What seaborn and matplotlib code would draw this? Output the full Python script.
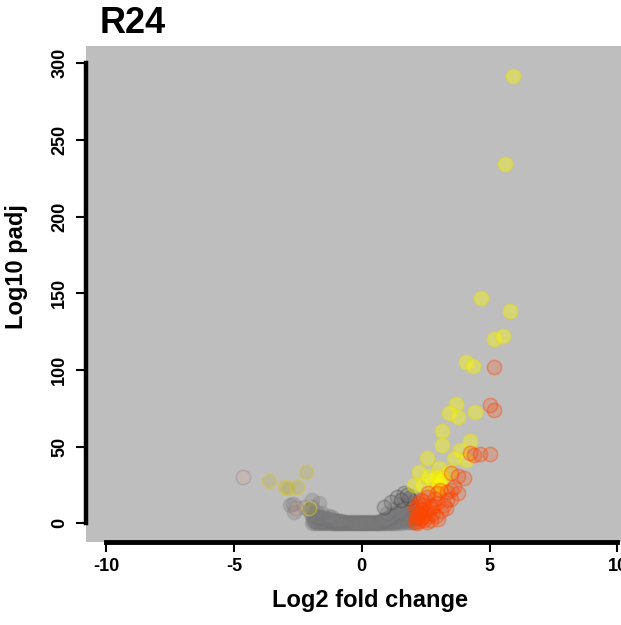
import matplotlib
matplotlib.use("Agg")
import matplotlib.pyplot as plt
import seaborn as sns
import pandas as pd

# ---- data: log2 fold change / log10 adjusted p ----
# non-significant genes (grey cloud)
grey_lfc = [-1.95, -1.85, -1.75, -1.65, -1.55, -1.45, -1.35, -1.25, -1.15, -1.05, -0.95, -0.85, -0.75, -0.65,
            -0.55, -0.45, -0.35, -0.25, -0.15, -0.05, 0.05, 0.15, 0.25, 0.35, 0.45, 0.55, 0.65, 0.75,
            0.85, 0.95, 1.05, 1.15, 1.25, 1.35, 1.45, 1.55, 1.65, 1.75, 1.85, 1.95, 2.05,
            -1.9, -1.8, -1.7, -1.6, -1.5, -1.4, -1.3, -1.2, -1.1, -1.0, -0.9, -0.8, -0.7, -0.6,
            -0.5, -0.4, -0.3, -0.2, -0.1, 0.0, 0.1, 0.2, 0.3, 0.4, 0.5, 0.6, 0.7, 0.8,
            0.9, 1.0, 1.1, 1.2, 1.3, 1.4, 1.5, 1.6, 1.7, 1.8, 1.9, 2.0,
            -1.92, -1.82, -1.72, -1.62, -1.52, -1.42, -1.32, -1.22, -1.12, -1.02, -0.92, -0.82, -0.72, -0.62,
            -0.52, -0.42, -0.32, -0.22, -0.12, -0.02, 0.08, 0.18, 0.28, 0.38, 0.48, 0.58, 0.68, 0.78,
            0.88, 0.98, 1.08, 1.18, 1.28, 1.38, 1.48, 1.58, 1.68, 1.78, 1.88, 1.98,
            -1.87, -1.77, -1.67, -1.57, -1.47, -1.37, -1.27, -1.17, -1.07, -0.97, -0.87, -0.77,
            0.77, 0.87, 0.97, 1.07, 1.17, 1.27, 1.37, 1.47, 1.57, 1.67, 1.77, 1.87, 1.97,
            -2.0, -1.9, -1.8, -1.7, -1.6, -1.5, -1.4, -1.3, -1.2, -1.1, -1.0, -0.9,
            0.8, 0.9, 1.0, 1.1, 1.2, 1.3, 1.4, 1.5, 1.6, 1.7, 1.8, 1.9, 2.0,
            -2.05, -1.95, -1.8, -1.55, -1.3, -1.15, 1.5, 1.25, 1.0, 1.95, 1.75,
            -1.93, -1.67, -2.25, -2.81, -2.65, -2.7]
grey_padj = [0.4, 0.2, 0.5, 0.1, 0.3, 0.2, 0.0, 0.3, 0.1, 0.2, 0.0, 0.1, 0.2, 0.0,
             0.1, 0.0, 0.1, 0.0, 0.0, 0.1, 0.0, 0.1, 0.0, 0.2, 0.1, 0.0, 0.2, 0.1,
             0.3, 0.2, 0.4, 0.3, 0.5, 0.4, 0.6, 0.5, 0.8, 0.7, 0.9, 1.1, 1.0,
             3.0, 2.6, 2.4, 2.1, 1.9, 1.7, 1.5, 1.4, 1.2, 1.1, 1.0, 0.9, 0.9, 0.8,
             0.8, 0.7, 0.7, 0.6, 0.6, 0.6, 0.6, 0.6, 0.7, 0.7, 0.8, 0.9, 1.0, 1.2,
             1.4, 1.7, 2.0, 2.4, 2.8, 3.2, 3.7, 4.2, 4.8, 5.4, 6.0, 6.5,
             1.5, 1.3, 1.1, 1.0, 0.9, 0.8, 0.7, 0.6, 0.5, 0.5, 0.4, 0.4, 0.3, 0.3,
             0.3, 0.3, 0.2, 0.2, 0.3, 0.2, 0.3, 0.2, 0.3, 0.3, 0.4, 0.4, 0.5, 0.5,
             0.6, 0.8, 0.9, 1.1, 1.3, 1.5, 1.8, 2.1, 2.4, 2.8, 3.2, 3.6,
             4.2, 3.9, 3.6, 3.3, 3.0, 2.7, 2.4, 2.1, 1.8, 1.6, 1.4, 1.2,
             1.5, 2.0, 2.6, 3.3, 4.0, 4.8, 5.7, 6.6, 7.6, 8.6, 9.6, 10.6, 11.5,
             6.0, 5.5, 5.0, 4.6, 4.2, 3.8, 3.4, 3.0, 2.7, 2.4, 2.1, 1.8,
             2.0, 2.6, 3.4, 4.3, 5.3, 6.4, 7.5, 8.7, 10.0, 11.3, 12.6, 13.8, 14.5,
             8.5, 10.5, 7.5, 6.5, 4.8, 3.8, 12.5, 9.5, 7.0, 18.0, 14.5,
             15.2, 13.0, 10.8, 11.9, 7.6, 12.5]

# rim of the cloud on the up-regulated side
rim_lfc = [1.65, 1.39, 1.84, 1.13, 0.87, 1.55, 1.75]
rim_padj = [19.6, 17.4, 16.3, 14.1, 10.8, 15.5, 18.5]

# significant, down-regulated
down_lfc = [-3.64, -3.0, -2.87, -2.55, -2.17, -2.06]
down_padj = [27.6, 23.5, 22.8, 23.5, 33.3, 9.8]

# weakly supported calls
weak_lfc = [-4.65, -2.59]
weak_padj = [30.4, 9.8]

# significant, up-regulated (group A)
upA_lfc = [5.92, 5.62, 4.65, 5.78, 5.19, 5.53, 4.06, 4.34, 3.68, 3.41, 3.77, 4.41, 3.15, 3.12,
           4.22, 2.56, 3.83, 3.6, 4.06, 2.23, 3.01, 2.95, 3.15, 3.4, 2.04, 2.37, 2.69, 3.0,
           3.1, 2.9, 2.6, 3.05]
upA_padj = [291.8, 234.6, 147.2, 138.3, 120.2, 122.0, 105.2, 102.6, 77.6, 71.8, 69.5, 72.8, 60.4, 51.1,
            53.7, 42.4, 47.8, 42.4, 41.3, 33.7, 35.9, 30.4, 29.4, 33.7, 25.0, 25.0, 28.2, 26.5,
            24.0, 22.0, 31.0, 28.5]

# significant, up-regulated (group B)
upB_lfc = [5.16, 5.0, 5.19, 4.22, 4.61, 5.03, 4.38, 3.47, 3.76, 3.99, 3.76, 3.34, 2.95, 2.56,
           2.3, 2.95, 3.34, 2.17, 2.43, 2.17, 2.69,
           2.08, 2.12, 2.2, 2.25, 2.3, 2.35, 2.4, 2.45, 2.5, 2.6, 2.65, 2.75, 2.85, 3.05,
           3.2, 3.5, 3.6, 2.2, 2.1,
           2.15, 2.3, 2.55, 2.7, 2.9, 3.1, 3.3, 3.0, 2.4, 2.6, 2.8, 3.5]
upB_padj = [102.0, 77.0, 73.7, 46.0, 45.2, 45.2, 44.6, 32.6, 30.9, 29.4, 19.6, 20.6, 19.6, 17.4,
            15.2, 13.0, 15.2, 10.8, 7.6, 4.3, 9.8,
            1.0, 3.5, 6.5, 1.5, 9.0, 4.0, 12.0, 2.0, 7.0, 4.5, 11.0, 6.0, 16.0, 22.0,
            12.0, 16.0, 24.0, 13.0, 10.0,
            0.5, 2.5, 0.8, 2.0, 5.0, 8.0, 10.0, 2.5, 14.5, 20.0, 11.0, 22.0]

x_ticks = [-10, -5, 0, 5, 10]
y_ticks = [0, 50, 100, 150, 200, 250, 300]

# ---- styling ----
sns.set_theme(style="white")
plt.rcParams["font.family"] = ["Liberation Sans", "DejaVu Sans"]
plt.rcParams["font.weight"] = "bold"
plt.rcParams["text.color"] = "black"
plt.rcParams["xtick.color"] = "black"
plt.rcParams["ytick.color"] = "black"
plt.rcParams["xtick.labelcolor"] = "black"
plt.rcParams["ytick.labelcolor"] = "black"

fig = plt.figure(figsize=(6.21, 6.25), dpi=100)
ax = fig.add_axes([85.7 / 621, (625 - 541.7) / 625, (637.9 - 85.7) / 621, (541.7 - 46) / 625])
ax.set_facecolor("#bebebe")

groups = [
    (grey_lfc, grey_padj, (0.49, 0.49, 0.49, 0.3), (0.44, 0.44, 0.46, 0.2)),
    (rim_lfc, rim_padj, (0.45, 0.45, 0.45, 0.3), (0.15, 0.15, 0.15, 0.25)),
    (down_lfc, down_padj, (0.70, 0.66, 0.20, 0.25), (0.85, 0.78, 0.20, 0.5)),
    (weak_lfc, weak_padj, (0.90, 0.60, 0.45, 0.2), (0.5, 0.5, 0.6, 0.35)),
    (upA_lfc, upA_padj, (1.0, 1.0, 0.0, 0.38), (0.92, 0.88, 0.0, 0.45)),
    (upB_lfc, upB_padj, (1.0, 0.27, 0.0, 0.22), (1.0, 0.27, 0.0, 0.4)),
]
for lfc, padj, face, edge in groups:
    df = pd.DataFrame({"log2FoldChange": lfc, "log10padj": padj})
    sns.scatterplot(data=df, x="log2FoldChange", y="log10padj", ax=ax,
                    s=106, color=face, edgecolor=edge, linewidth=1.1, legend=False)

ax.set_xlim(-10.8, 10.8)
ax.set_ylim(-12, 311.3)
ax.set_xticks(x_ticks)
ax.set_yticks(y_ticks)
ax.set_xticklabels([str(t) for t in x_ticks], fontsize=13, fontweight="bold", color="black")
ax.set_yticklabels([str(t) for t in y_ticks], fontsize=13, fontweight="bold", color="black",
                   rotation=90, va="center")
ax.set_xlabel("")
ax.set_ylabel("")

for side in ("top", "right"):
    ax.spines[side].set_visible(False)
ax.spines["left"].set_bounds(0, 300)
ax.spines["bottom"].set_bounds(-10, 10)
ax.spines["left"].set_linewidth(3.2)
ax.spines["bottom"].set_linewidth(3.5)
ax.spines["left"].set_color("black")
ax.spines["bottom"].set_color("black")
ax.tick_params(axis="both", direction="out", length=7, width=1.5, color="black",
               left=True, bottom=True)
ax.tick_params(axis="y", pad=5.5)
ax.tick_params(axis="x", pad=4.5)

fig.text(100 / 621, 1 - 33 / 625, "R24", fontsize=26, fontweight="bold",
         ha="left", va="baseline", color="black")
fig.text(370 / 621, 1 - 607 / 625, "Log2 fold change", fontsize=17, fontweight="bold",
         ha="center", va="baseline", color="black")
fig.text(17 / 621, 1 - 267 / 625, "Log10 padj", fontsize=17, fontweight="bold",
         ha="center", va="center", rotation=90, color="black")

fig.savefig("out.png", dpi=100, facecolor="white")
